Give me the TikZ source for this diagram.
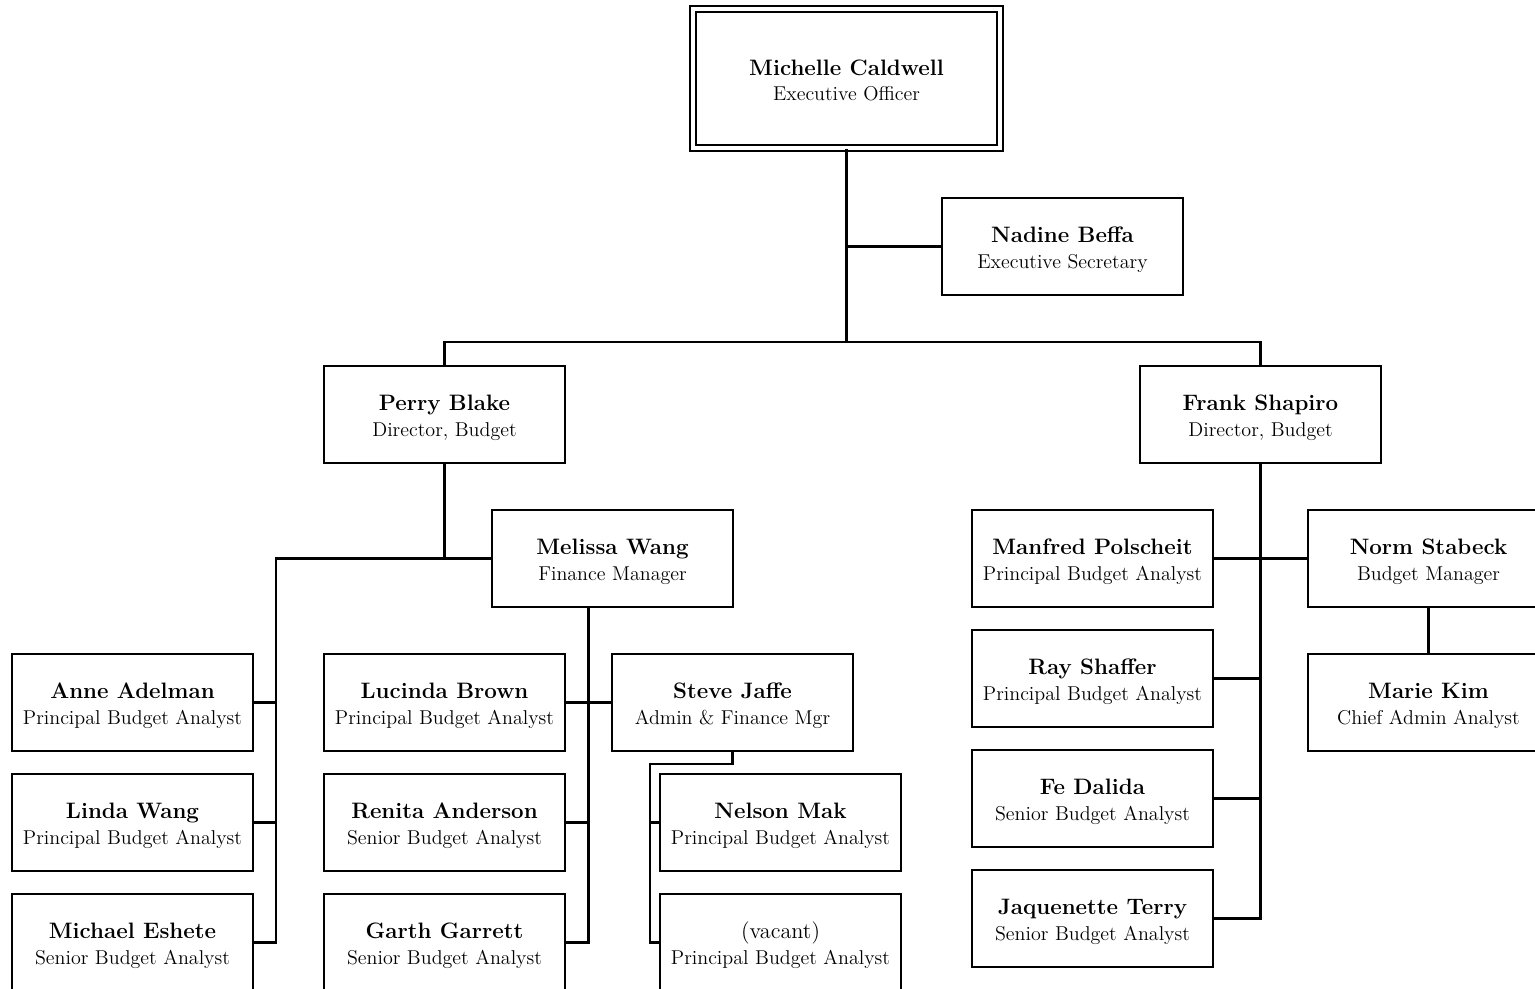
\documentclass[tikz,border=0pt]{standalone}
\begin{document}
\begin{tikzpicture}[x=0.02cm,y=-0.02cm,
  card/.style={draw=black, line width=1.2pt, fill=white, minimum width=4.82cm, minimum height=1.94cm,
    align=center, inner sep=0pt, font=\fontsize{11.4}{14.75}\selectfont},
  topcard/.style={card, double=white, double distance=0.08cm, minimum width=6.14cm, minimum height=2.78cm},
  link/.style={draw=black, line width=1.2pt}]
\newcommand\ocname[2]{\rule{0pt}{12.76pt}{\fontsize{12.7}{14.75}\selectfont\bfseries #1}\\#2\rule[-2pt]{0pt}{2pt}}
\newcommand\ocplain[2]{\rule{0pt}{12.76pt}{\fontsize{12.7}{14.75}\selectfont #1}\\#2\rule[-2pt]{0pt}{2pt}}
\useasboundingbox (0,0) rectangle (1535,988);
\clip (0,0) rectangle (1535,988);
\fill[white] (0,0) rectangle (1535,988);
% nodes
\node[topcard] (mc) at (846.5,78.5) {\ocname{Michelle Caldwell}{Executive Officer}};
\node[card] (nadine) at (1062.5,246.5) {\ocname{Nadine Beffa}{Executive Secretary}};
\node[card] (perry) at (444.5,414.5) {\ocname{Perry Blake}{Director, Budget}};
\node[card] (frank) at (1260.5,414.5) {\ocname{Frank Shapiro}{Director, Budget}};
\node[card] (melissa) at (612.5,558.5) {\ocname{Melissa Wang}{Finance Manager}};
\node[card] (manfred) at (1092.5,558.5) {\ocname{Manfred Polscheit}{Principal Budget Analyst}};
\node[card] (norm) at (1428.5,558.5) {\ocname{Norm Stabeck}{Budget Manager}};
\node[card] (marie) at (1428.5,702.5) {\ocname{Marie Kim}{Chief Admin Analyst}};
\node[card] (anne) at (132.5,702.5) {\ocname{Anne Adelman}{Principal Budget Analyst}};
\node[card] (linda) at (132.5,822.5) {\ocname{Linda Wang}{Principal Budget Analyst}};
\node[card] (michael) at (132.5,942.5) {\ocname{Michael Eshete}{Senior Budget Analyst}};
\node[card] (lucinda) at (444.5,702.5) {\ocname{Lucinda Brown}{Principal Budget Analyst}};
\node[card] (renita) at (444.5,822.5) {\ocname{Renita Anderson}{Senior Budget Analyst}};
\node[card] (garth) at (444.5,942.5) {\ocname{Garth Garrett}{Senior Budget Analyst}};
\node[card] (steve) at (732.5,702.5) {\ocname{Steve Jaffe}{Admin \& Finance Mgr}};
\node[card] (nelson) at (780.5,822.5) {\ocname{Nelson Mak}{Principal Budget Analyst}};
\node[card] (vacant) at (780.5,942.5) {\ocplain{(vacant)}{Principal Budget Analyst}};
\node[card] (ray) at (1092.5,678.5) {\ocname{Ray Shaffer}{Principal Budget Analyst}};
\node[card] (fe) at (1092.5,798.5) {\ocname{Fe Dalida}{Senior Budget Analyst}};
\node[card] (jaq) at (1092.5,918.5) {\ocname{Jaquenette Terry}{Senior Budget Analyst}};
% junction coordinates
\coordinate (bus) at (846.5,342);
\coordinate (pl) at (276,558.5);
\coordinate (mv) at (588.5,607.5);
\coordinate (sv) at (650,764);
% connectors
\draw[link] (mc.south) -- (bus);
\draw[link] (nadine.west) -- (nadine.west -| mc.south);
\draw[link] (perry.north) |- (bus) -| (frank.north);
\draw[link] (perry.south) -- (perry.south |- melissa.west);
\draw[link] (melissa.west) -- (pl) |- (michael.east);
\draw[link] (anne.east) -- (anne.east -| pl);
\draw[link] (linda.east) -- (linda.east -| pl);
\draw[link] (mv) |- (garth.east);
\draw[link] (lucinda.east) -- (steve.west);
\draw[link] (renita.east) -- (renita.east -| mv);
\draw[link] (steve.south) |- (sv) |- (vacant.west);
\draw[link] (nelson.west) -- (nelson.west -| sv);
\draw[link] (frank.south) |- (jaq.east);
\draw[link] (manfred.east) -- (norm.west);
\draw[link] (ray.east) -- (ray.east -| frank.south);
\draw[link] (fe.east) -- (fe.east -| frank.south);
\draw[link] (norm.south) -- (marie.north);
\end{tikzpicture}
\end{document}
